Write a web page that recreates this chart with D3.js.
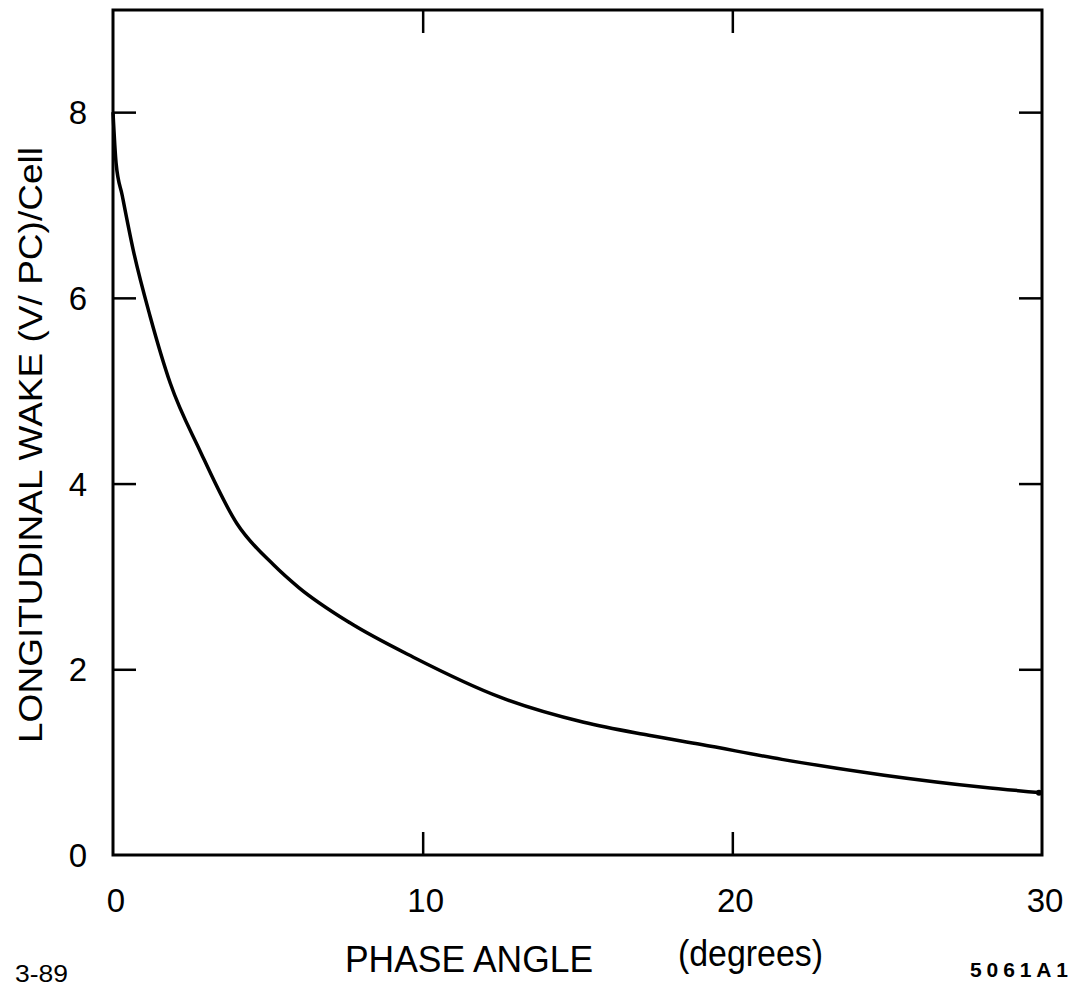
<!DOCTYPE html>
<html>
<head>
<meta charset="utf-8">
<script src="https://cdn.jsdelivr.net/npm/d3@7"></script>
<style>
  body { margin: 0; background: #fff; }
  text { font-family: "Liberation Sans", Arial, sans-serif; fill: #000; }
</style>
</head>
<body>
<script>
// data
var phaseAngle = [0, 0.1, 0.3, 0.65, 1.2, 1.85, 2.8, 4.0, 5.2, 6.0, 7.65, 9.7, 12.5, 15.2, 17.3, 19.0, 21.6, 24.9, 28.1, 30];
var wake = [8.0, 7.45, 7.1, 6.52, 5.8, 5.08, 4.36, 3.57, 3.12, 2.88, 2.5, 2.13, 1.7, 1.43, 1.29, 1.19, 1.03, 0.86, 0.73, 0.67];
var xTicks = [0, 10, 20, 30];
var yTicks = [0, 2, 4, 6, 8];

var width = 1077, height = 987;
var plotLeft = 113, plotRight = 1042, plotTop = 10, plotBottom = 855;

var svg = d3.select('body').append('svg')
  .attr('width', width)
  .attr('height', height);

var x = d3.scaleLinear().domain([0, 30]).range([plotLeft, plotRight]);
var y = d3.scaleLinear().domain([0, 9.1]).range([plotBottom, plotTop]);

// frame
svg.append('rect')
  .attr('x', plotLeft).attr('y', plotTop)
  .attr('width', plotRight - plotLeft).attr('height', plotBottom - plotTop)
  .attr('fill', 'none').attr('stroke', '#000').attr('stroke-width', 3);

// inward ticks on all four sides
function styleAxis(g) {
  g.select('.domain').remove();
  g.selectAll('.tick line').attr('stroke', '#000').attr('stroke-width', 2.5);
  g.selectAll('.tick text').remove();
}

svg.append('g').attr('transform', 'translate(0,' + plotBottom + ')')
  .call(d3.axisBottom(x).tickValues([10, 20]).tickSize(-23))
  .call(styleAxis);
svg.append('g').attr('transform', 'translate(0,' + plotTop + ')')
  .call(d3.axisTop(x).tickValues([10, 20]).tickSize(-23))
  .call(styleAxis);
svg.append('g').attr('transform', 'translate(' + plotLeft + ',0)')
  .call(d3.axisLeft(y).tickValues([2, 4, 6, 8]).tickSize(-23))
  .call(styleAxis);
svg.append('g').attr('transform', 'translate(' + plotRight + ',0)')
  .call(d3.axisRight(y).tickValues([2, 4, 6, 8]).tickSize(-23))
  .call(styleAxis);

// tick labels
svg.append('g').selectAll('text')
  .data(xTicks)
  .join('text')
  .attr('x', d => x(d) + 3)
  .attr('y', 912)
  .attr('text-anchor', 'middle')
  .style('font-size', '33px')
  .text(d => d);

svg.append('g').selectAll('text')
  .data(yTicks)
  .join('text')
  .attr('x', 78)
  .attr('y', d => y(d) + 12)
  .attr('text-anchor', 'middle')
  .style('font-size', '33px')
  .text(d => d);

// the curve
var line = d3.line()
  .x(d => x(d[0]))
  .y(d => y(d[1]))
  .curve(d3.curveMonotoneX);

svg.append('path')
  .datum(d3.zip(phaseAngle, wake))
  .attr('d', line)
  .attr('fill', 'none')
  .attr('stroke', '#000')
  .attr('stroke-width', 3.5);

// little dot where the curve meets the right edge
svg.append('circle')
  .attr('cx', x(30) - 3)
  .attr('cy', y(wake[wake.length - 1]))
  .attr('r', 3)
  .attr('fill', '#000');

// axis titles
svg.append('text')
  .attr('x', 345).attr('y', 972)
  .attr('textLength', 248).attr('lengthAdjust', 'spacingAndGlyphs')
  .style('font-size', '37px')
  .text('PHASE  ANGLE');

svg.append('text')
  .attr('x', 678).attr('y', 966)
  .attr('textLength', 145).attr('lengthAdjust', 'spacingAndGlyphs')
  .style('font-size', '36px')
  .text('(degrees)');

svg.append('text')
  .attr('transform', 'translate(42,743) rotate(-90)')
  .attr('textLength', 596).attr('lengthAdjust', 'spacingAndGlyphs')
  .style('font-size', '34px')
  .text('LONGITUDINAL  WAKE (V/ PC)/Cell');

// figure codes
svg.append('text')
  .attr('x', 15).attr('y', 982)
  .attr('textLength', 53).attr('lengthAdjust', 'spacingAndGlyphs')
  .style('font-size', '23px')
  .text('3-89');

svg.append('text')
  .attr('x', 970).attr('y', 977)
  .attr('textLength', 98).attr('lengthAdjust', 'spacing')
  .style('font-size', '21px')
  .style('font-weight', 'bold')
  .text('5061A1');
</script>
</body>
</html>
